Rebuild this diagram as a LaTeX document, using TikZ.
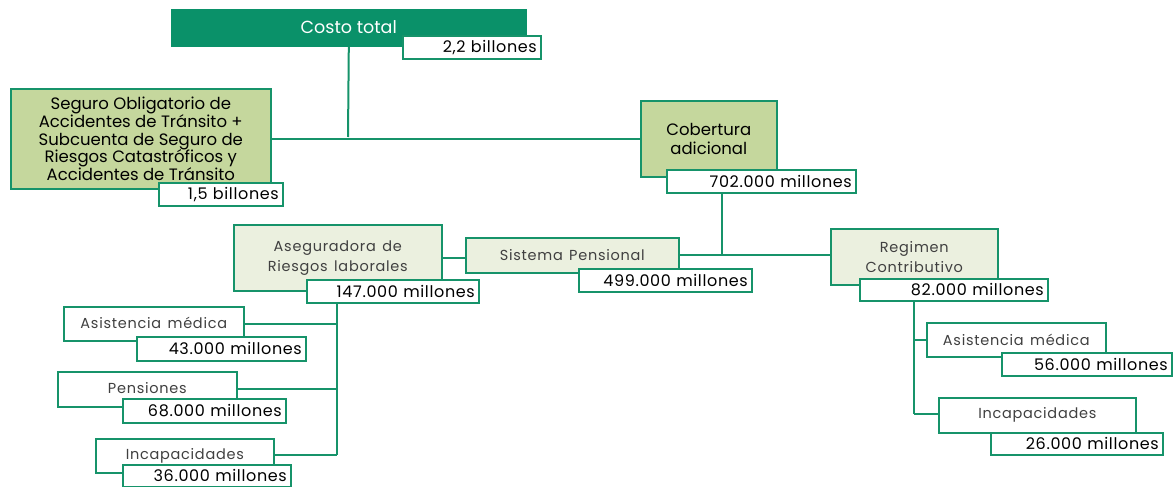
\documentclass[tikz,border=0pt]{standalone}
\usepackage{fontspec}
\setmainfont{Poppins}
\newfontfamily\grayfont[LetterSpace=5,WordSpace=1.4]{Poppins}
\newfontfamily\valfont[LetterSpace=4,WordSpace=1.5]{Poppins}
\definecolor{dg}{HTML}{0A9169}
\definecolor{bd}{HTML}{16936A}
\definecolor{lg}{HTML}{C5D79D}
\definecolor{pg}{HTML}{EBF0DF}
\definecolor{tg}{HTML}{404040}
\begin{document}
\begin{tikzpicture}[x=1pt,y=1pt,
  box/.style={draw=bd, line width=1.6pt, anchor=north west, inner sep=0pt, align=center},
  gbox/.style={box, text=tg, font=\grayfont\fontsize{14.5}{20}\selectfont},
  val/.style={draw=bd, line width=1.6pt, fill=white, anchor=north west, inner xsep=4pt, inner ysep=0pt, align=right, font=\valfont\fontsize{16}{17}\selectfont},
  ln/.style={draw=bd, line width=2pt}]
\useasboundingbox (0,0) rectangle (1173,-487);
% coordinates for junctions
\coordinate (j1) at (348,-137);
\coordinate (j2) at (722,-255);
\coordinate (j3) at (337,-455);
\coordinate (j4) at (914,-414);
% boxes
\node[box, fill=dg, draw=dg, text=white, minimum width=354, minimum height=36, font=\fontsize{17.5}{19}\selectfont] (ct) at (171,-9) {\raisebox{2pt}{Costo total}};
\node[box, fill=lg, minimum width=260, minimum height=100, font=\fontsize{16.5}{17.6}\selectfont] (sg) at (10,-88) {Seguro Obligatorio de\\Accidentes de Tránsito +\\Subcuenta de Seguro de\\Riesgos Catastróficos y\\Accidentes de Tránsito};
\node[box, fill=lg, minimum width=136, minimum height=76, font=\fontsize{16.5}{19}\selectfont] (cob) at (640,-100) {Cobertura\\adicional};
\node[gbox, fill=pg, minimum width=208, minimum height=66] (asg) at (233,-224) {Aseguradora de\\Riesgos laborales};
\node[gbox, fill=pg, minimum width=213, minimum height=35] (sp) at (465,-237) {Sistema Pensional};
\node[gbox, fill=pg, minimum width=167, minimum height=56] (rc) at (830,-228) {Regimen\\Contributivo};
\node[gbox, fill=white, minimum width=180, minimum height=34] (asL) at (63,-306) {\raisebox{1pt}{Asistencia médica}};
\node[gbox, fill=white, minimum width=179, minimum height=35] (pen) at (57,-371) {\raisebox{2pt}{Pensiones}};
\node[gbox, fill=white, minimum width=178, minimum height=34] (incL) at (95,-438) {\raisebox{2pt}{Incapacidades}};
\node[gbox, fill=white, minimum width=179, minimum height=34] (asR) at (926,-322) {Asistencia médica};
\node[gbox, fill=white, minimum width=197, minimum height=35] (incR) at (938,-397) {Incapacidades};
% connectors
\draw[ln] (ct.south) -- (j1);
\draw[ln] (sg.east) -- (cob.west);
\draw[ln] (asg.east) -- (sp.west |- asg.east);
\draw[ln] (sp.east |- j2) -- (rc.west |- j2);
\draw[ln] (asL.east) -- (asL.east -| j3);
\draw[ln] (pen.east) -- (pen.east -| j3);
\draw[ln] (incL.east |- j3) -- (j3);
\draw[ln] (asR.west) -- (asR.west -| j4);
\draw[ln] (j4) -- (incR.west |- j4);
% value boxes
\node[val, text width=130, minimum height=23] (v22) at (402,-35) {2,2 billones};
\node[val, text width=116, minimum height=23] (v15) at (158,-182) {1,5 billones};
\node[val, text width=181, minimum height=23] (v702) at (666,-169) {702.000 millones};
\node[val, text width=164, minimum height=23] (v147) at (306,-279) {147.000 millones};
\node[val, text width=165, minimum height=23] (v499) at (578,-268) {499.000 millones};
\node[val, text width=180, minimum height=22] (v82) at (859,-278) {82.000 millones};
\node[val, text width=161, minimum height=24] (v43) at (136,-336) {43.000 millones};
\node[val, text width=155, minimum height=24] (v68) at (122,-398) {68.000 millones};
\node[val, text width=160, minimum height=22] (v36) at (122,-464) {36.000 millones};
\node[val, text width=162, minimum height=23] (v56) at (1001,-352) {56.000 millones};
\node[val, text width=164, minimum height=22] (v26) at (990,-432) {26.000 millones};
% vertical trunks from value boxes
\draw[ln] (v702.south -| j2) -- (j2);
\draw[ln] (v147.south -| j3) -- (j3);
\draw[ln] (v82.south -| j4) -- (j4);
\end{tikzpicture}
\end{document}
